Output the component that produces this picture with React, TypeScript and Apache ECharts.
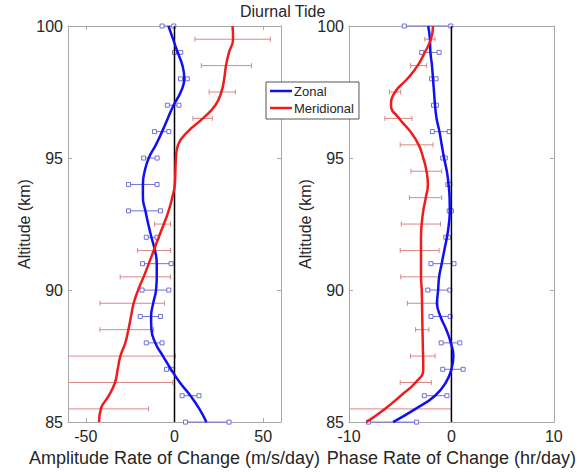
import React, { useEffect, useRef } from "react";
import * as echarts from "echarts";

// ---------- Data ----------
// Left panel: amplitude rate of change (m/s/day)
const ampZonalAlt = [100, 99.5, 99, 98.5, 98, 97.5, 97, 96.5, 96, 95.5, 95, 94.5, 94, 93.5, 93, 92.5, 92, 91.5, 91, 90.5, 90, 89.5, 89, 88.5, 88, 87.5, 87, 86.5, 86, 85.5, 85];
const ampZonal = [-3.4, -0.8, 1.8, 4.5, 5.5, 3.5, -0.5, -3.8, -7, -10.5, -14.5, -16.8, -17.8, -17.8, -16.4, -14.8, -13, -11, -10, -10, -10.4, -12, -13.2, -13, -10.8, -6.5, -2, 3, 9, 14, 18];
const ampMeridAlt = [100, 99.5, 99, 98.5, 98, 97.5, 97, 96.5, 96, 95.5, 95, 94.5, 94, 93.5, 93, 92.5, 92, 91.5, 91, 90.5, 90, 89.5, 89, 88.5, 88, 87.5, 87, 86.5, 86, 85.5, 85];
const ampMerid = [32.7, 33, 30.7, 29, 28, 26.4, 23, 16, 7.5, 2, 0.8, 0.5, 0.2, -1.3, -3.3, -6, -8.9, -11.7, -14.5, -17.4, -20.5, -23, -24.5, -26, -27.7, -30.5, -32, -33.5, -37, -41.5, -42.5];
// error bars: altitude, low, high
const ampZonalErrAlt = [100, 99, 98, 97, 96, 95, 94, 93, 92, 91, 90, 89, 88, 87, 86, 85];
const ampZonalErrLo = [-7, 0, 3.4, -4, -11.3, -17.4, -25.9, -25.9, -15.9, -18, -18.3, -19.3, -15.9, -4.5, 4.3, 6.2];
const ampZonalErrHi = [-0.4, 3.5, 7.2, 2.5, -3.2, -9.8, -9.8, -7.9, -9.8, -1.9, -3.2, -7.9, -7, -1.3, 13.8, 30.7];
const ampMeridErrAlt = [99.5, 98.5, 97.5, 96.5, 92.5, 91.5, 90.5, 89.5, 88.5, 87.5, 86.5, 85.5];
const ampMeridErrLo = [11.5, 15.1, 19.5, 10.4, -11.2, -20.8, -30.6, -42, -42, -62, -66, -68];
const ampMeridErrHi = [54, 43.4, 34.3, 21.3, -2.3, -2.3, -2.3, -5.7, -11.7, 0.5, -1, -14.6];

// Right panel: phase rate of change (hr/day)
const phZonalAlt = [100, 99.5, 99, 98.5, 98, 97.5, 97, 96.5, 96, 95.5, 95, 94.5, 94, 93.5, 93, 92.5, 92, 91.5, 91, 90.5, 90, 89.5, 89, 88.5, 88, 87.5, 87, 86.5, 86, 85.5, 85];
const phZonal = [-2.27, -2.1, -2.05, -1.9, -1.8, -1.7, -1.6, -1.45, -1.17, -0.95, -0.72, -0.45, -0.28, -0.18, -0.16, -0.25, -0.44, -0.7, -0.95, -1.2, -1.3, -1.4, -1.07, -0.5, -0.06, 0.19, 0, -0.54, -1.6, -3.5, -5.7];
const phMeridAlt = [100, 99.5, 99, 98.5, 98, 97.5, 97, 96.5, 96, 95.5, 95, 94.5, 94, 93.5, 93, 92.5, 92, 91.5, 91, 90.5, 90, 89, 88, 87, 86.5, 86, 85.5, 85];
const phMerid = [-1.8, -2.0, -2.6, -3.3, -4.3, -5.5, -5.9, -5.1, -4.0, -3.2, -2.75, -2.43, -2.3, -2.5, -2.75, -2.9, -2.97, -2.97, -2.97, -2.97, -2.9, -2.85, -2.8, -2.75, -3.5, -4.95, -6.5, -8.3];
const phZonalErrAlt = [100, 99, 98, 97, 96, 95, 94, 93, 92, 91, 90, 89, 88, 87, 86, 85];
const phZonalErrLo = [-4.6, -2.9, -1.95, -1.75, -1.86, -0.85, -0.35, -0.22, -0.55, -2.0, -2.3, -2.0, -1.0, -0.85, -2.65, -8.1];
const phZonalErrHi = [-0.06, -1.2, -1.5, -1.45, -0.22, -0.6, -0.15, 0, -0.3, 0.25, -0.16, -0.12, 0.82, 1.14, -0.44, -3.4];
const phMeridErrAlt = [99.5, 98.5, 97.5, 96.5, 95.5, 94.5, 93.5, 92.5, 91.5, 90.5, 89.5, 88.5, 87.5, 86.5, 85.5];
const phMeridErrLo = [-2.6, -4.0, -6.05, -6.5, -5.0, -3.95, -4.1, -4.9, -5.0, -4.95, -4.3, -3.5, -4.0, -5.0, -13];
const phMeridErrHi = [-1.6, -2.43, -4.95, -3.85, -1.8, -0.95, -0.95, -1.07, -1.2, -1.26, -1.5, -2.2, -1.6, -1.96, 0];

const ampTicks = [-50, 0, 50];
const phTicks = [-10, 0, 10];
const altTicks = [85, 90, 95, 100];

// ---------- Styles ----------
const BLUE = "#1010f0";
const RED = "#ee1c1c";
const BLUE_ERR = "#7070d8";
const RED_ERR = "#dc8686";
const FRAME = "#a8a8a8";
const TEXT = "#262626";
const FONT = "'Liberation Sans', Arial, sans-serif";

const pairs = (xs: number[], alts: number[]) => alts.map((a, i) => [xs[i], a]);
const triples = (alts: number[], lo: number[], hi: number[]) => alts.map((a, i) => [a, lo[i], hi[i]]);

function errRender(kind: "square" | "cap", color: string) {
  return (params: any, api: any) => {
    const alt = api.value(0);
    const lo = api.value(1);
    const hi = api.value(2);
    const p1 = api.coord([lo, alt]);
    const p2 = api.coord([hi, alt]);
    const cs = params.coordSys;
    const xmin = cs.x;
    const xmax = cs.x + cs.width;
    const c1 = Math.max(xmin, Math.min(xmax, p1[0]));
    const c2 = Math.max(xmin, Math.min(xmax, p2[0]));
    const y = p1[1];
    const children: any[] = [
      { type: "line", shape: { x1: c1, y1: y, x2: c2, y2: y }, style: { stroke: color, lineWidth: 1 } },
    ];
    const ends = [
      [p1[0], c1],
      [p2[0], c2],
    ];
    ends.forEach(([raw, cl]) => {
      if (Math.abs(raw - cl) > 0.01) return;
      if (kind === "square") {
        children.push({ type: "rect", shape: { x: cl - 2, y: y - 2, width: 4, height: 4 }, style: { stroke: color, fill: "#fff", lineWidth: 1 } });
      } else {
        children.push({ type: "line", shape: { x1: cl, y1: y - 2.5, x2: cl, y2: y + 2.5 }, style: { stroke: color, lineWidth: 1 } });
      }
    });
    return { type: "group", children };
  };
}

function xAxisPair(grid: number, min: number, max: number, ticks: number[], name: string) {
  const common = {
    gridIndex: grid,
    type: "value",
    min,
    max,
    splitLine: { show: false },
    axisLine: { show: true, onZero: false, lineStyle: { color: FRAME, width: 1 } },
    axisTick: { show: true, inside: true, length: 4, customValues: ticks, lineStyle: { color: FRAME } },
  };
  return [
    {
      ...common,
      position: "bottom",
      name,
      nameLocation: "middle",
      nameGap: 22,
      nameTextStyle: { fontSize: 18, color: TEXT, fontFamily: FONT },
      axisLabel: { show: true, customValues: ticks, fontSize: 16, color: TEXT, margin: 6, fontFamily: FONT },
    },
    { ...common, position: "top", axisLabel: { show: false } },
  ];
}

function yAxisPair(grid: number, nameGap: number) {
  const common = {
    gridIndex: grid,
    type: "value",
    min: 85,
    max: 100,
    interval: 5,
    splitLine: { show: false },
    axisLine: { show: true, onZero: false, lineStyle: { color: FRAME, width: 1 } },
    axisTick: { show: true, inside: true, length: 4, customValues: altTicks, lineStyle: { color: FRAME } },
  };
  return [
    {
      ...common,
      position: "left",
      name: "Altitude (km)",
      nameLocation: "middle",
      nameGap,
      nameTextStyle: { fontSize: 16, color: TEXT, fontFamily: FONT },
      axisLabel: { show: true, fontSize: 16, color: TEXT, margin: 5, fontFamily: FONT },
    },
    { ...common, position: "right", axisLabel: { show: false } },
  ];
}

function lineSeries(name: string, data: number[][], color: string, xi: number, yi: number) {
  return {
    name,
    type: "line",
    xAxisIndex: xi,
    yAxisIndex: yi,
    data,
    smooth: 0.5,
    showSymbol: false,
    symbol: "none",
    color,
    lineStyle: { color, width: 2.5 },
    z: 5,
  };
}

function errSeries(name: string, data: number[][], kind: "square" | "cap", color: string, xi: number, yi: number) {
  return {
    name,
    type: "custom",
    xAxisIndex: xi,
    yAxisIndex: yi,
    data,
    encode: { x: [1, 2], y: 0 },
    renderItem: errRender(kind, color),
    color,
    z: 2,
    silent: true,
  };
}

function zeroLine(xi: number, yi: number) {
  return {
    name: "zero",
    type: "line",
    xAxisIndex: xi,
    yAxisIndex: yi,
    data: [
      [0, 85],
      [0, 100],
    ],
    symbol: "none",
    lineStyle: { color: "#000", width: 1.5 },
    silent: true,
    z: 3,
  };
}

export default function App() {
  const ref = useRef<HTMLDivElement>(null);
  useEffect(() => {
    if (!ref.current) return;
    const chart = echarts.init(ref.current, undefined, { renderer: "svg" });
    const option: any = {
      animation: false,
      backgroundColor: "#fff",
      textStyle: { fontFamily: FONT },
      title: {
        text: "Diurnal Tide",
        left: 240,
        top: 3,
        padding: 0,
        textStyle: { fontSize: 16, fontWeight: "normal", color: TEXT, fontFamily: FONT },
      },
      legend: {
        data: ["Zonal", "Meridional"],
        orient: "vertical",
        left: 266,
        top: 82,
        padding: [2, 5, 4, 4],
        itemGap: 3,
        itemWidth: 22,
        itemHeight: 2.5,
        icon: "rect",
        backgroundColor: "#fff",
        borderColor: "#555",
        borderWidth: 1,
        z: 20,
        textStyle: { fontSize: 13, color: TEXT, lineHeight: 14, fontFamily: FONT, padding: [0, 0, 0, -3] },
      },
      grid: [
        { left: 68, top: 26, width: 213, height: 401 },
        { left: 349, top: 26, width: 212, height: 401 },
      ],
      xAxis: [
        ...xAxisPair(0, -60, 60, ampTicks, "Amplitude Rate of Change (m/s/day)"),
        ...xAxisPair(1, -10, 10, phTicks, "Phase Rate of Change (hr/day)"),
      ],
      yAxis: [...yAxisPair(0, 36), ...yAxisPair(1, 34)],
      series: [
        errSeries("ampZonalErr", triples(ampZonalErrAlt, ampZonalErrLo, ampZonalErrHi), "square", BLUE_ERR, 0, 0),
        errSeries("ampMeridErr", triples(ampMeridErrAlt, ampMeridErrLo, ampMeridErrHi), "cap", RED_ERR, 0, 0),
        zeroLine(0, 0),
        lineSeries("Zonal", pairs(ampZonal, ampZonalAlt), BLUE, 0, 0),
        lineSeries("Meridional", pairs(ampMerid, ampMeridAlt), RED, 0, 0),
        errSeries("phZonalErr", triples(phZonalErrAlt, phZonalErrLo, phZonalErrHi), "square", BLUE_ERR, 2, 2),
        errSeries("phMeridErr", triples(phMeridErrAlt, phMeridErrLo, phMeridErrHi), "cap", RED_ERR, 2, 2),
        zeroLine(2, 2),
        lineSeries("Zonal", pairs(phZonal, phZonalAlt), BLUE, 2, 2),
        lineSeries("Meridional", pairs(phMerid, phMeridAlt), RED, 2, 2),
      ],
    };
    chart.setOption(option);
    return () => chart.dispose();
  }, []);
  return (
    <div
      ref={ref}
      style={{ position: "absolute", left: 0, top: 0, width: 579, height: 472 }}
    />
  );
}
